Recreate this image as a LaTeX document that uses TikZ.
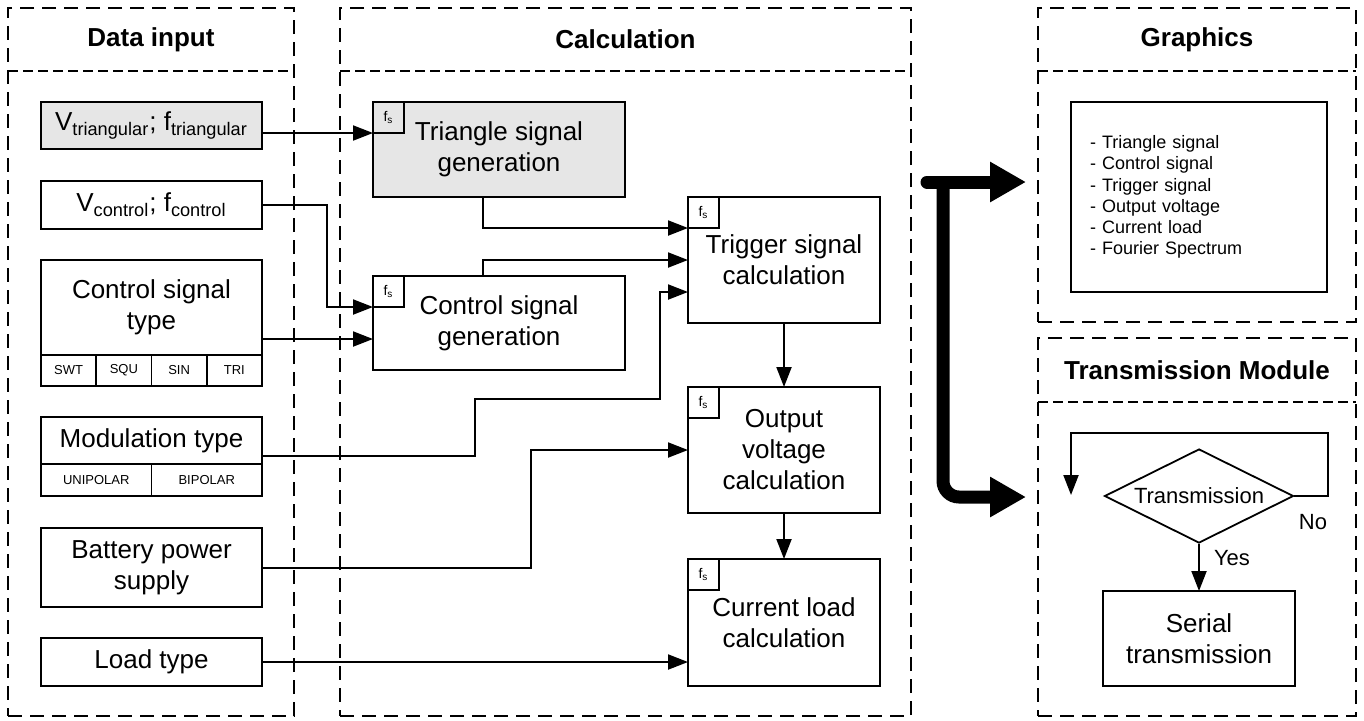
\documentclass[tikz,border=0pt]{standalone}
\usepackage{fontspec}
\setmainfont{Liberation Sans}
\usetikzlibrary{positioning,calc,arrows.meta,shapes.geometric}
\definecolor{boxgray}{HTML}{E6E6E6}

\begin{document}
\begin{tikzpicture}[x=0.5pt,y=-0.5pt,
  frame/.style={draw,line width=1.4pt,dash pattern=on 7pt off 4pt,outer sep=0pt},
  divider/.style={line width=0.8pt,dash pattern=on 5pt off 2.5pt},
  header/.style={font=\fontsize{13}{15}\selectfont\bfseries},
  block/.style={draw,line width=0.9pt,outer sep=0pt,align=center,font=\fontsize{13}{15.5}\selectfont},
  cell/.style={draw,line width=0.9pt,outer sep=0pt,inner sep=0pt,font=\fontsize{6.5}{8}\selectfont},
  fsbox/.style={draw,line width=0.6pt,outer sep=0pt,inner sep=0pt,minimum size=15.5pt,font=\fontsize{7}{8}\selectfont},
  flow/.style={line width=1pt,-{Triangle[length=10pt,width=7.5pt]}},
  bigflow/.style={line width=6.5pt,-{Triangle[length=18pt,width=19pt]}},
  lbl/.style={font=\fontsize{11}{13}\selectfont}]
\useasboundingbox (0,0) rectangle (1364,720);
% frames
\node[frame,minimum width=143pt,minimum height=354pt] (fin) at (151,362) {};
\node[frame,minimum width=285.5pt,minimum height=354pt] (fcalc) at (625.5,362) {};
\node[frame,minimum width=159pt,minimum height=157pt] (fgraph) at (1197,165) {};
\node[frame,minimum width=159pt,minimum height=189pt] (ftrans) at (1197,527) {};
\foreach \f/\t in {fin/Data input,fcalc/Calculation,fgraph/Graphics}{
  \draw[divider] ([yshift=-31.5pt]\f.north west) -- ([yshift=-31.5pt]\f.north east);
  \node[header] (\f-head) at ([yshift=-15.75pt]\f.north) {\t};
}
\draw[divider] ([yshift=-32pt]ftrans.north west) -- ([yshift=-32pt]ftrans.north east);
\node[header] (ftrans-head) at ([yshift=-16pt]ftrans.north) {Transmission Module};
% data input
\node[block,fill=boxgray,minimum width=110.5pt,minimum height=23.5pt] (vtri) at (151.5,125.5) {V\textsubscript{triangular}; f\textsubscript{triangular}};
\node[block,minimum width=110.5pt,minimum height=24pt] (vctl) at (151.5,205) {V\textsubscript{control}; f\textsubscript{control}};
\node[block,minimum width=110.5pt,minimum height=47.5pt] (cstype) at (151.5,307.5) {Control signal\\type};
\foreach \lab [count=\i from 0] in {SWT,SQU,SIN,TRI}
  \node[cell,anchor=north west,minimum width=27.625pt,minimum height=15.5pt] (cs-\lab) at ([xshift=\i*27.625pt]cstype.south west) {\lab};
\node[block,minimum width=110.5pt,minimum height=23.5pt] (modtype) at (151.5,440.5) {Modulation type};
\node[cell,anchor=north west,minimum width=55.25pt,minimum height=16pt] (unipolar) at (modtype.south west) {UNIPOLAR};
\node[cell,minimum width=55.25pt,minimum height=16pt,right=0pt of unipolar] (bipolar) {BIPOLAR};
\node[block,minimum width=110.5pt,minimum height=39.5pt] (batt) at (151.5,567.5) {Battery power\\supply};
\node[block,minimum width=110.5pt,minimum height=24pt] (load) at (151.5,662) {Load type};
% calculation
\node[block,fill=boxgray,minimum width=126pt,minimum height=47.5pt] (trigen) at (499,149.5) {Triangle signal\\generation};
\node[block,minimum width=126pt,minimum height=47pt] (ctlgen) at (499,323) {Control signal\\generation};
\node[block,minimum width=96pt,minimum height=63pt] (trigcalc) at (784,260) {Trigger signal\\calculation};
\node[block,minimum width=96pt,minimum height=63pt] (outcalc) at (784,450) {Output\\voltage\\calculation};
\node[block,minimum width=96pt,minimum height=63.5pt] (curcalc) at (784,622.5) {Current load\\calculation};
\foreach \b in {trigen,ctlgen,trigcalc,outcalc,curcalc}
  \node[fsbox,anchor=north west] (\b-fs) at (\b.north west) {f\textsubscript{s}};
\draw[flow] (vtri.east |- trigen-fs.south west) -- (trigen-fs.south west);
\draw[flow] (vctl.east) -- ++(32.5pt,0) |- (ctlgen-fs.south west);
\coordinate (ctlin) at ([yshift=-8pt]ctlgen.west);
\draw[flow] (cstype.east |- ctlin) -- (ctlin);
\draw[flow] ([xshift=-8pt]trigen.south) |- (trigcalc-fs.south west);
\draw[flow] ([xshift=-8pt]ctlgen.north) |- (trigcalc.west);
\coordinate (modin) at ([yshift=-16pt]trigcalc.west);
\draw[flow] ([yshift=-7.75pt]modtype.east) -- ++(106.5pt,0) -- ++(0,28.5pt) -| ([xshift=-14pt]modin) -- (modin);
\draw[flow] (batt.east) -- ++(134.5pt,0) |- (outcalc.west);
\draw[flow] (load.east) -- (load.east -| curcalc.west);
\draw[flow] (trigcalc) -- (outcalc);
\draw[flow] (outcalc) -- (curcalc);
% graphics
\node[block,minimum width=128pt,minimum height=95pt,text width=109pt,inner xsep=9.5pt,align=left,font=\fontsize{9}{10.6}\selectfont] (glist) at (1199,197)
  {- Triangle signal\\- Control signal\\- Trigger signal\\- Output voltage\\- Current load\\- Fourier Spectrum};
% transmission
\node[diamond,draw,line width=0.9pt,aspect=2,inner sep=0pt,minimum width=94.5pt,minimum height=47pt,lbl] (txq) at (1199,496) {Transmission};
\node[block,minimum width=96pt,minimum height=47.5pt] (serial) at (1199,638.5) {Serial\\transmission};
\draw[flow] (txq) -- (serial);
\node[lbl] (yes) at (1232,558) {Yes};
\coordinate (looptop) at (1071,433);
\coordinate (loopend) at (1071,495);
\draw[flow] (txq.east) -- ++(17pt,0) |- (looptop) -- (loopend);
\node[lbl] (no) at (1313,522) {No};
% thick arrows
\coordinate (split) at (943,182);
\coordinate (splittop) at (927,182);
\coordinate (gin) at (1026,182);
\coordinate (tin) at (1026,497);
\draw[bigflow,line cap=round] (splittop) -- (gin);
\draw[bigflow,rounded corners=8pt] (split) |- (tin);
\end{tikzpicture}
\end{document}
